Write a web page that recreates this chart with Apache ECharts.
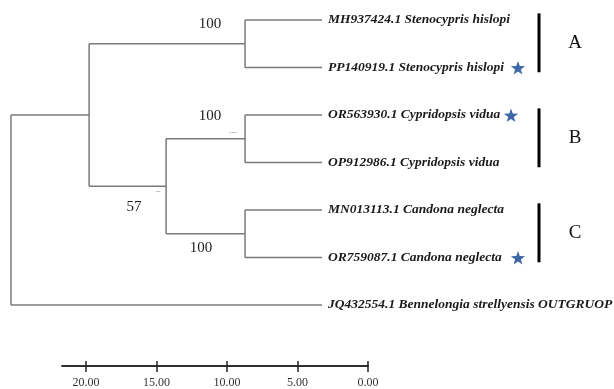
<!DOCTYPE html>
<html>
<head>
<meta charset="utf-8">
<script src="https://cdn.jsdelivr.net/npm/echarts@6/dist/echarts.min.js"></script>
<style>
  html, body { margin: 0; padding: 0; background: #fff; }
  #chart { width: 614px; height: 389px; }
</style>
</head>
<body>
<div id="chart"></div>
<script>
  var leafNames = [
    'MH937424.1 Stenocypris hislopi',
    'PP140919.1 Stenocypris hislopi',
    'OR563930.1 Cypridopsis vidua',
    'OP912986.1 Cypridopsis vidua',
    'MN013113.1 Candona neglecta',
    'OR759087.1 Candona neglecta',
    'JQ432554.1 Bennelongia strellyensis OUTGRUOP'
  ];
  // internal nodes get ids after the leaves: 7, 8, 9 ...
  var nodeChildren = [[0, 1], [2, 3], [4, 5], [8, 9], [7, 10], [11, 6]];
  var nodeHeights = [5.46, 5.46, 5.46, 11.06, 16.52, 22.06];
  var nodeSupport = ['100', '100', '100', '57', '', ''];
  var nodeFaint = ['', '---', '', '--', '', ''];
  var starLeaves = [1, 2, 5];
  var cladeLetters = ['A', 'B', 'C'];
  var cladeLeaves = [[0, 1], [2, 3], [4, 5]];
  var scaleTicks = [0, 5, 10, 15, 20];

  // label placement around nodes (px)
  var supportOffset = [[-35, -20], [-35, -23], [-44, 14], [-32, 21]];
  var faintOffset = [[0, 0], [-12, -6], [0, 0], [-8, 6]];
  var starPx = [518, 511, 518];

  var nLeaf = leafNames.length;
  var posX = [], posY = [];
  leafNames.forEach(function (n, i) { posX.push(0); posY.push(i); });
  nodeChildren.forEach(function (c, k) {
    posX.push(nodeHeights[k]);
    posY.push((posY[c[0]] + posY[c[1]]) / 2);
  });

  var edges = [];
  nodeChildren.forEach(function (c, k) {
    var id = nLeaf + k;
    edges.push([posX[id], posY[c[0]], posX[id], posY[c[1]]]);
    c.forEach(function (ch) {
      edges.push([posX[ch], posY[ch], posX[id], posY[ch]]);
    });
  });

  // support value sits on the branch leading to the node
  var supportData = nodeSupport.map(function (s, k) {
    return [posX[nLeaf + k], posY[nLeaf + k], k];
  }).filter(function (d) { return nodeSupport[d[2]] || nodeFaint[d[2]]; });

  function starPoints(cx, cy, R, r) {
    var pts = [];
    for (var i = 0; i < 10; i++) {
      var a = -Math.PI / 2 + i * Math.PI / 5;
      var rad = i % 2 ? r : R;
      pts.push([cx + rad * Math.cos(a), cy + rad * Math.sin(a)]);
    }
    return pts;
  }

  var myChart = echarts.init(document.getElementById('chart'));
  var option = {
    backgroundColor: '#fff',
    animation: false,
    grid: [
      { left: 11, right: 0, top: 20, bottom: 84 },
      { left: 62, right: 246, top: 357, height: 10 }
    ],
    xAxis: [
      { gridIndex: 0, type: 'value', inverse: true, min: -20.71, max: 22.06, show: false },
      {
        gridIndex: 1, type: 'value', inverse: true, min: 0, max: 21.7, position: 'bottom',
        axisLine: { lineStyle: { color: '#222', width: 1.5 } },
        axisTick: { inside: true, length: 5, lineStyle: { color: '#222', width: 1.5 }, customValues: scaleTicks },
        axisLabel: { show: false },
        splitLine: { show: false }
      },
      {
        gridIndex: 1, type: 'value', inverse: true, min: 0, max: 21.7, position: 'bottom',
        axisLine: { lineStyle: { color: '#222', width: 1.5 } },
        axisTick: { length: 6, lineStyle: { color: '#222', width: 1.5 }, customValues: scaleTicks },
        axisLabel: {
          customValues: scaleTicks, margin: 11,
          color: '#333', fontFamily: 'Liberation Serif', fontSize: 12,
          formatter: function (v) { return v.toFixed(2); }
        },
        splitLine: { show: false }
      }
    ],
    yAxis: [
      { gridIndex: 0, type: 'value', inverse: true, min: 0, max: 6, show: false },
      { gridIndex: 1, type: 'value', min: 0, max: 1, show: false }
    ],
    series: [
      {
        // branches
        type: 'custom', xAxisIndex: 0, yAxisIndex: 0, clip: false,
        data: edges,
        encode: { x: [0, 2], y: [1, 3] },
        renderItem: function (params, api) {
          var p1 = api.coord([api.value(0), api.value(1)]);
          var p2 = api.coord([api.value(2), api.value(3)]);
          return {
            type: 'line',
            shape: { x1: p1[0], y1: p1[1], x2: p2[0], y2: p2[1] },
            style: { stroke: '#7a7a7a', lineWidth: 1.5 }
          };
        }
      },
      {
        // leaf names
        type: 'custom', xAxisIndex: 0, yAxisIndex: 0, clip: false,
        data: leafNames.map(function (n, i) { return [0, i]; }),
        renderItem: function (params, api) {
          var p = api.coord([api.value(0), api.value(1)]);
          return {
            type: 'text',
            style: {
              x: p[0] + 6, y: p[1], text: leafNames[params.dataIndex],
              fill: '#1a1a1a', fontFamily: 'Liberation Serif', fontSize: 13.5,
              fontWeight: 'bold', fontStyle: 'italic', align: 'left', verticalAlign: 'middle'
            }
          };
        }
      },
      {
        // bootstrap values
        type: 'custom', xAxisIndex: 0, yAxisIndex: 0, clip: false,
        data: supportData,
        renderItem: function (params, api) {
          var k = api.value(2);
          var p = api.coord([api.value(0), api.value(1)]);
          var children = [];
          if (nodeSupport[k]) {
            children.push({
              type: 'text',
              style: {
                x: p[0] + supportOffset[k][0], y: p[1] + supportOffset[k][1], text: nodeSupport[k],
                fill: '#222', fontFamily: 'Liberation Serif', fontSize: 15,
                align: 'center', verticalAlign: 'middle'
              }
            });
          }
          if (nodeFaint[k]) {
            children.push({
              type: 'text',
              style: {
                x: p[0] + faintOffset[k][0], y: p[1] + faintOffset[k][1], text: nodeFaint[k],
                fill: '#999', fontFamily: 'Liberation Serif', fontSize: 8,
                align: 'center', verticalAlign: 'middle'
              }
            });
          }
          return { type: 'group', children: children };
        }
      },
      {
        // stars
        type: 'custom', xAxisIndex: 0, yAxisIndex: 0, clip: false,
        data: starLeaves.map(function (l, i) { return [0, l, i]; }),
        renderItem: function (params, api) {
          var p = api.coord([0, api.value(1)]);
          return {
            type: 'polygon',
            shape: { points: starPoints(starPx[api.value(2)], p[1] + 1, 7.5, 3) },
            style: { fill: '#3e68a6' }
          };
        }
      },
      {
        // clade bars and letters
        type: 'custom', xAxisIndex: 0, yAxisIndex: 0, clip: false,
        data: cladeLeaves.map(function (c, i) { return [0, c[0], c[1], i]; }),
        renderItem: function (params, api) {
          var a = api.coord([0, api.value(1) - 0.14]);
          var b = api.coord([0, api.value(2) + 0.1]);
          return {
            type: 'group',
            children: [
              {
                type: 'line',
                shape: { x1: 539, y1: a[1], x2: 539, y2: b[1] },
                style: { stroke: '#000', lineWidth: 3 }
              },
              {
                type: 'text',
                style: {
                  x: 575, y: (a[1] + b[1]) / 2, text: cladeLetters[api.value(3)],
                  fill: '#111', fontFamily: 'Liberation Serif', fontSize: 19,
                  align: 'center', verticalAlign: 'middle'
                }
              }
            ]
          };
        }
      }
    ]
  };
  option && myChart.setOption(option);
</script>
</body>
</html>
